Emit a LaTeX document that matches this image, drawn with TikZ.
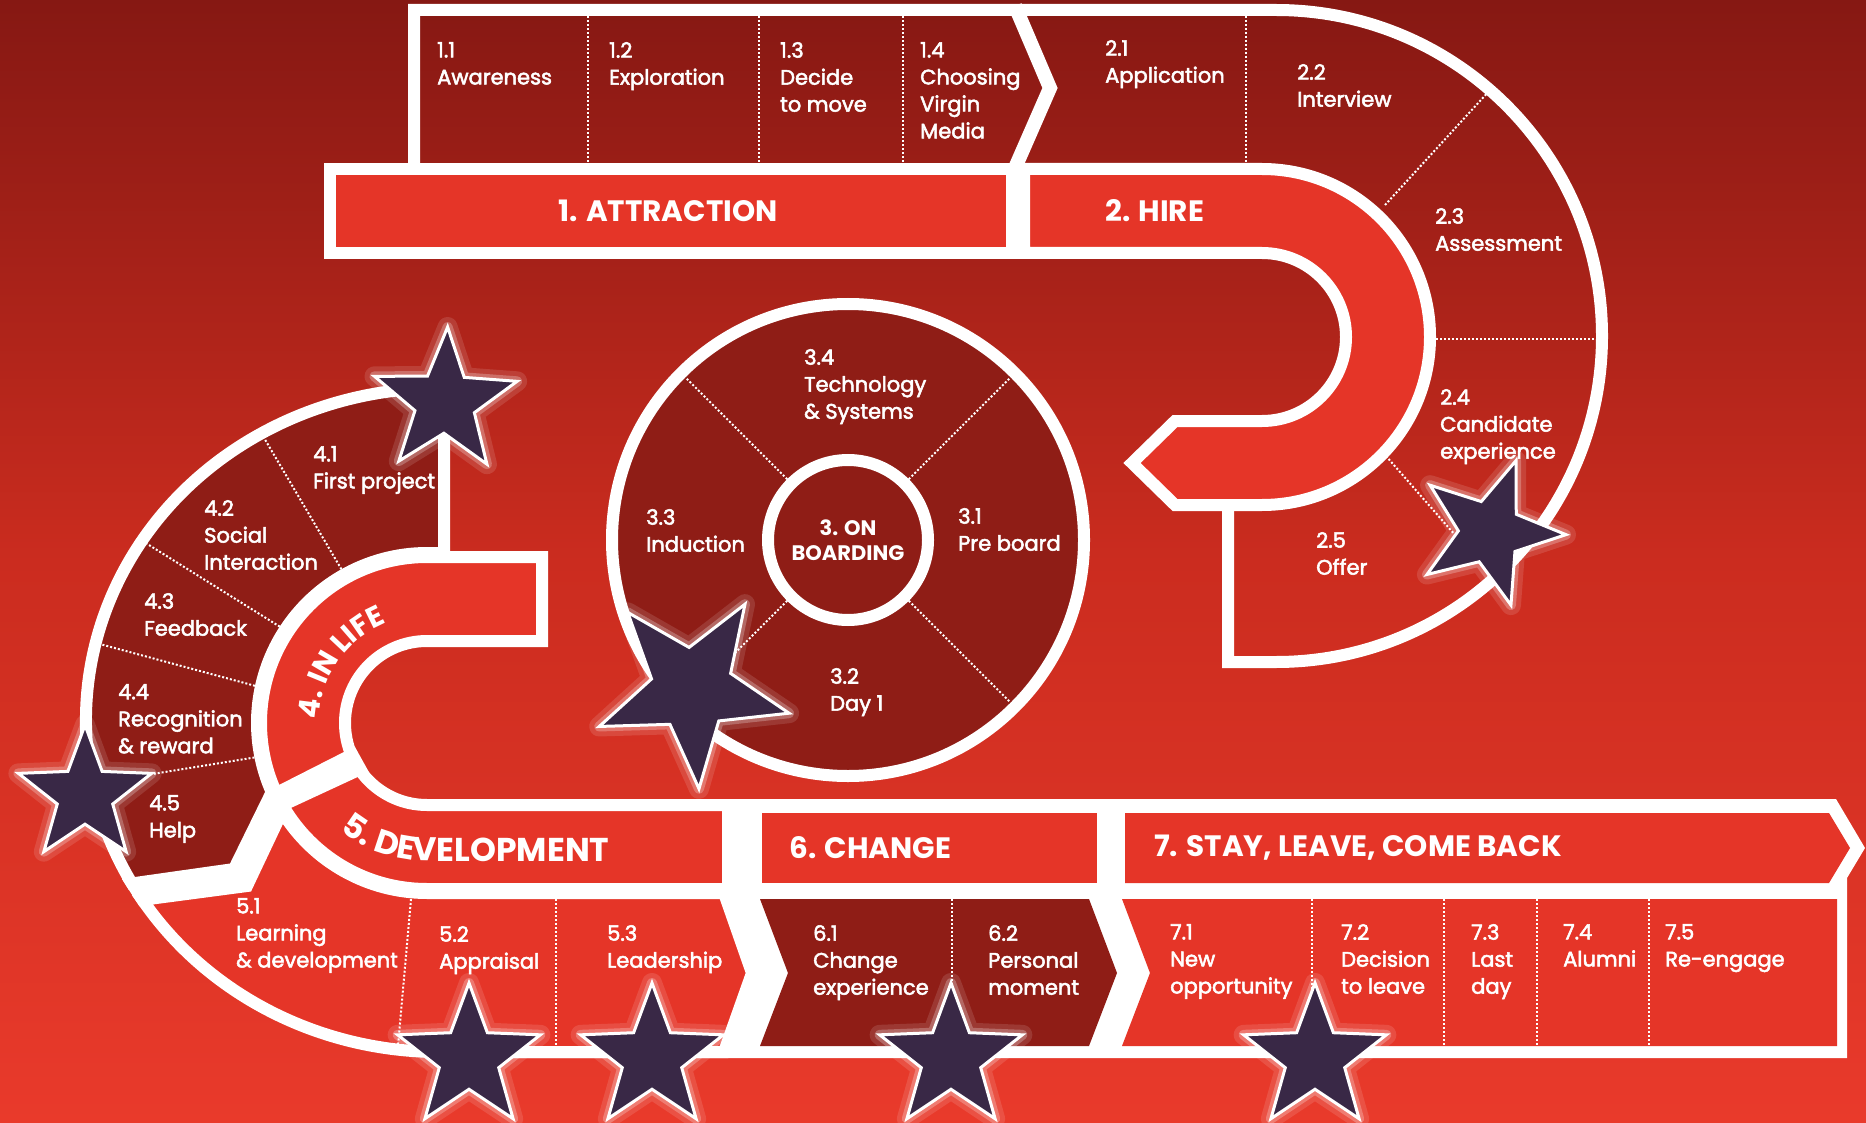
\documentclass[tikz,border=0pt]{standalone}
\usepackage{fontspec}
\setmainfont{Poppins}
\newfontfamily\labelfont{Poppins}[FakeBold=2.5]
\usepackage{tikz}
\usetikzlibrary{calc,shapes.geometric,decorations.text}
\definecolor{bgtop}{RGB}{134,24,19}
\definecolor{bgmid}{RGB}{203,44,31}
\definecolor{bgbot}{RGB}{233,58,43}
\definecolor{darkred}{RGB}{143,29,22}
\definecolor{bandred}{RGB}{229,53,40}
\definecolor{starpurple}{RGB}{57,40,70}
\pgfdeclareverticalshading{bgshade}{100bp}{color(0bp)=(bgbot); color(25bp)=(bgbot); color(50bp)=(bgmid); color(75bp)=(bgtop); color(100bp)=(bgtop)}
\newcommand{\stagefont}{\fontsize{29.5}{32}\selectfont\bfseries}

\begin{document}
\begin{tikzpicture}[x=1pt, y=-1pt,
    rim/.style={draw=white, line width=12},
    band/.style={rim, fill=bandred},
    zone/.style={rim, fill=darkred},
    divider/.style={draw=white, line width=2, dotted},
    lbl/.style={anchor=north west, align=left, text=white, inner sep=0, font=\labelfont\fontsize{21}{27}\selectfont},
    stage/.style={text=white, inner sep=0, font=\stagefont},
    vstar/.style={star, star points=5, star point ratio=2.4, inner sep=0, fill=starpurple, draw=white, line width=3,
        preaction={draw=white, draw opacity=.12, line width=20, line join=round},
        preaction={draw=white, draw opacity=.25, line width=10, line join=round}}
]
\fill[shading=bgshade] (0,0) rectangle (1866,1123);
\useasboundingbox (0,0) rectangle (1866,1123);

\coordinate (bc) at (1276,336);
\coordinate (hc) at (1262,337);
\coordinate (oc) at (848,540);
\coordinate (cc) at (427,723);
\coordinate (ec) at (440,720);

% attraction and hire track
\draw[rim] (414,169) -- (414,10) -- (1276,10) arc[start angle=-90, end angle=90, radius=326] -- (1228,662) -- (1228,505);
\draw[white, line width=14] (1015,6) -- (1050,88) -- (1015,168);
\foreach \x in {588,759,903} \draw[divider] (\x,16) -- (\x,163);
\draw[divider] (1246,16) -- (1246,163);
\draw[divider] (1385,205) -- (1490,90);
\draw[divider] (1436,339) -- (1596,339);
\draw[divider] (1386,456) -- (1490,575);
\draw[band] (330,169) rectangle (1012,253);
\draw[band] (1024,169) -- (1262,169) arc[start angle=-90, end angle=90, radius=168] -- (1175,505) -- (1132,463) -- (1175,421) -- (1262,421) arc[start angle=90, end angle=-90, radius=84] -- (1024,253) -- cycle;

% onboarding wheel
\draw[zone] (oc) circle[radius=236];
\draw[rim] (oc) circle[radius=80];
\foreach \a in {45,135,225,315} \draw[divider] ($(oc)+(\a:86)$) -- ($(oc)+(\a:230)$);

% lower track
\fill[white] (430,799) -- (1836,799) -- (1865,848) -- (1847,878) -- (1847,1058) -- (440,1058) -- cycle;
\draw[rim, fill=white] ($(ec)+(150.5:354 and 332)$) -- (234,869) -- ($(cc)+(156:170)$) -- ($(cc)+(148.5:170)$) -- (247,886) -- ($(ec)+(147.2:354 and 332)$) -- cycle;
\draw[band] (724,893) -- (752,973) -- (724,1052) -- (440,1052) arc[start angle=90, end angle=147.2, x radius=354, y radius=332] -- (247,886) -- ($(cc)+(148.5:170)$) arc[start angle=148.5, end angle=90, radius=170] -- cycle;
\draw[zone] (444,388) -- (444,553) -- (427,553) arc[start angle=270, end angle=156, radius=170] -- (234,869) -- ($(ec)+(150.5:354 and 332)$) arc[start angle=150.5, end angle=270.65, x radius=354, y radius=332] -- cycle;
\draw[band] (542,557) -- (427,557) arc[start angle=-90, end angle=-270, radius=166] -- (728,889) -- (728,805) -- (427,805) arc[start angle=90, end angle=270, radius=82] -- (542,641) -- cycle;
\fill[white] ($(cc)+(157:172)$) -- ($(cc)+(162:76)$) -- ($(cc)+(140:76)$) -- ($(cc)+(148.5:172)$) -- cycle;
\fill[bandred] (762,813) rectangle (1097,883);
\fill[bandred] (1125,813) -- (1829,813) -- (1850,848) -- (1829,883) -- (1125,883) -- cycle;
\fill[darkred] (760,899) -- (1089,899) -- (1117,973) -- (1089,1046) -- (760,1046) -- (788,973) -- cycle;
\fill[bandred] (1122,899) -- (1837,899) -- (1837,1046) -- (1122,1046) -- (1150,973) -- cycle;
\foreach \a/\t in {240.9/239.7, 213.2/212.7, 192.2/193.4, 168.7/168.9}
  \draw[divider] ($(cc)+(\a:176)$) -- ($(ec)+(\t:348 and 326)$);
\draw[divider] (411,899) -- (398,1046);
\foreach \x in {556,952,1312,1444,1537,1649} \draw[divider] (\x,899) -- (\x,1046);

% stage titles
\node[stage] (attraction) at (668,211) {1. ATTRACTION};
\node[stage, anchor=west] (hire) at (1105,211) {2. HIRE};
\node[stage, anchor=west] (change) at (789,848) {6. CHANGE};
\node[stage, anchor=west] (stay) at (1154,848) {7. STAY, LEAVE, COME BACK};
\node[text=white, align=center, inner sep=0, font=\fontsize{21}{25}\selectfont\bfseries] (onboarding) at (oc) {3. ON\\BOARDING};
\path[decorate, decoration={text along path, text color=white, text={|\fontsize{29}{32}\selectfont\bfseries|4. IN LIFE}}] ($(cc)+(182:108)$) arc[start angle=182, end angle=268, radius=108];
\path[decorate, decoration={text along path, text color=white, text={|\fontsize{33}{36}\selectfont\bfseries|5. DEVELOPMENT}}] ($(cc)+(129:138)$) arc[start angle=129, end angle=90, radius=138] -- (728,861);

% steps
\node[lbl] (l11) at (437,42) {1.1\\Awareness};
\node[lbl] (l12) at (609,42) {1.2\\Exploration};
\node[lbl] (l13) at (780,42) {1.3\\Decide\\to move};
\node[lbl] (l14) at (920,42) {1.4\\Choosing\\Virgin\\Media};
\node[lbl] (l21) at (1105,40) {2.1\\Application};
\node[lbl] (l22) at (1297,64) {2.2\\Interview};
\node[lbl] (l23) at (1435,208) {2.3\\Assessment};
\node[lbl] (l24) at (1440,389) {2.4\\Candidate\\experience};
\node[lbl] (l25) at (1316,532) {2.5\\Offer};
\node[lbl] (l34) at (804,349) {3.4\\Technology\\\& Systems};
\node[lbl] (l33) at (646,509) {3.3\\Induction};
\node[lbl] (l31) at (958,508) {3.1\\Pre board};
\node[lbl] (l32) at (830,668) {3.2\\Day 1};
\node[lbl] (l41) at (313,446) {4.1\\First project};
\node[lbl] (l42) at (204,500) {4.2\\Social\\Interaction};
\node[lbl] (l43) at (144,593) {4.3\\Feedback};
\node[lbl] (l44) at (118,684) {4.4\\Recognition\\\& reward};
\node[lbl] (l45) at (149,795) {4.5\\Help};
\node[lbl] (l51) at (236,898) {5.1\\Learning\\\& development};
\node[lbl] (l52) at (439,926) {5.2\\Appraisal};
\node[lbl] (l53) at (607,925) {5.3\\Leadership};
\node[lbl] (l61) at (813,925) {6.1\\Change\\experience};
\node[lbl] (l62) at (988,925) {6.2\\Personal\\moment};
\node[lbl] (l71) at (1170,924) {7.1\\New\\opportunity};
\node[lbl] (l72) at (1341,924) {7.2\\Decision\\to leave};
\node[lbl] (l73) at (1471,924) {7.3\\Last\\day};
\node[lbl] (l74) at (1563,924) {7.4\\Alumni};
\node[lbl] (l75) at (1665,924) {7.5\\Re-engage};

% stars
\node[vstar, minimum size=150pt, rotate=-2] (s41) at (445,402) {};
\node[vstar, minimum size=152pt, rotate=-20] (s24) at (1490,532) {};
\node[vstar, minimum size=200pt, rotate=-32] (s33) at (692,689) {};
\node[vstar, minimum size=140pt] (s45) at (85,795) {};
\node[vstar, minimum size=150pt] (s52) at (469,1058) {};
\node[vstar, minimum size=150pt] (s53) at (652,1058) {};
\node[vstar, minimum size=150pt] (s61) at (951,1058) {};
\node[vstar, minimum size=150pt] (s71) at (1315,1058) {};
\end{tikzpicture}
\end{document}
